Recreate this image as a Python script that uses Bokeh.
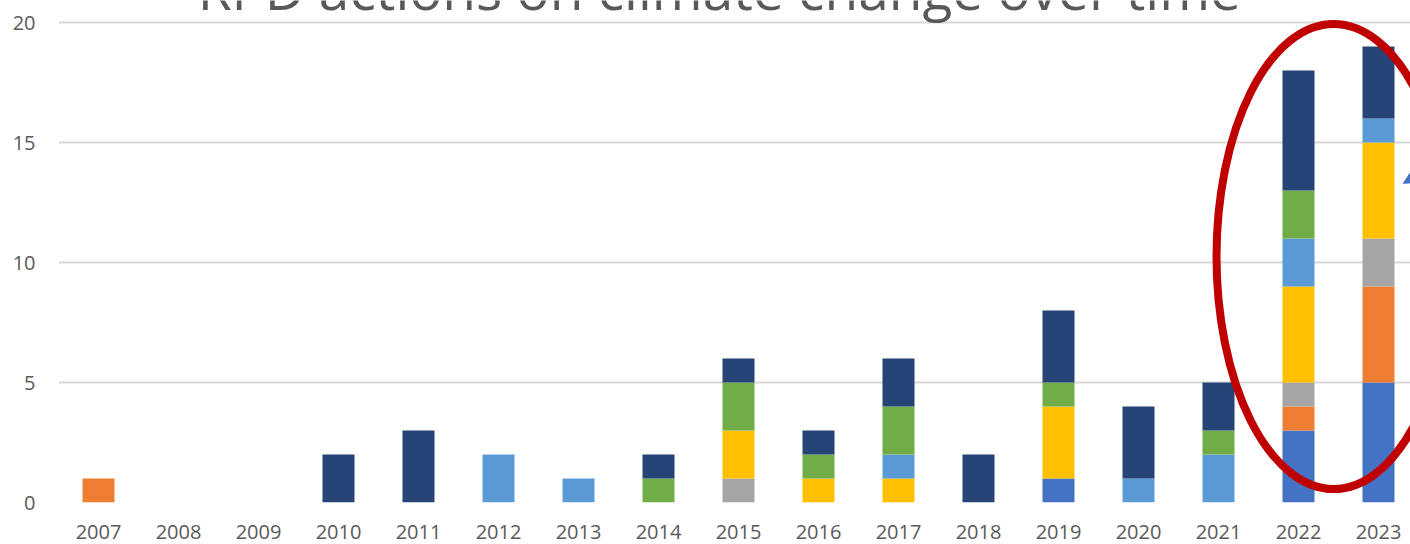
from bokeh.plotting import figure
from bokeh.models import ColumnDataSource, Range1d, FixedTicker, Arrow, NormalHead
from bokeh.core.properties import value
from bokeh.embed import file_html
from bokeh.resources import INLINE

years = [str(y) for y in range(2007, 2024)]
s_blue      = [0, 0, 0, 0, 0, 0, 0, 0, 0, 0, 0, 0, 1, 0, 0, 3, 5]
s_orange    = [1, 0, 0, 0, 0, 0, 0, 0, 0, 0, 0, 0, 0, 0, 0, 1, 4]
s_gray      = [0, 0, 0, 0, 0, 0, 0, 0, 1, 0, 0, 0, 0, 0, 0, 1, 2]
s_yellow    = [0, 0, 0, 0, 0, 0, 0, 0, 2, 1, 1, 0, 3, 0, 0, 4, 4]
s_lightblue = [0, 0, 0, 0, 0, 2, 1, 0, 0, 0, 1, 0, 0, 1, 2, 2, 1]
s_green     = [0, 0, 0, 0, 0, 0, 0, 1, 2, 1, 2, 0, 1, 0, 1, 2, 0]
s_navy      = [0, 0, 0, 2, 3, 0, 0, 1, 1, 1, 2, 2, 3, 3, 2, 5, 3]
y_ticks = [0, 5, 10, 15, 20]
title_text = "RPD actions on climate change over time"

names = ["s_blue", "s_orange", "s_gray", "s_yellow", "s_lightblue", "s_green", "s_navy"]
colors = ["#4472C4", "#ED7D31", "#A5A5A5", "#FFC000", "#5B9BD5", "#70AD47", "#264478"]
idx = list(range(len(years)))
src = ColumnDataSource(dict(x=idx, s_blue=s_blue, s_orange=s_orange, s_gray=s_gray,
                            s_yellow=s_yellow, s_lightblue=s_lightblue, s_green=s_green,
                            s_navy=s_navy))

p = figure(width=1410, height=544, x_range=Range1d(-0.5, 16.4), y_range=Range1d(0, 20.917),
           output_backend="svg", toolbar_location=None,
           min_border_left=58, min_border_right=0, min_border_top=0, min_border_bottom=42)
p.outline_line_color = None
p.background_fill_color = "white"
p.border_fill_color = "white"

p.vbar_stack(names, x="x", width=0.4, color=colors, source=src, line_color=None)

# axes
p.xaxis.ticker = FixedTicker(ticks=idx)
p.xaxis.major_label_overrides = {i: y for i, y in enumerate(years)}
p.yaxis.ticker = FixedTicker(ticks=y_ticks)
for ax in (p.xaxis[0], p.yaxis[0]):
    ax.axis_line_color = None
    ax.major_tick_line_color = None
    ax.minor_tick_line_color = None
    ax.major_tick_in = 0
    ax.major_tick_out = 0
    ax.major_label_text_font = "Open Sans"
    ax.major_label_text_font_size = "20px"
    ax.major_label_text_color = "#595959"
p.xaxis.major_label_standoff = 22
p.yaxis.major_label_standoff = 23
p.xgrid.grid_line_color = None
p.ygrid.ticker = FixedTicker(ticks=y_ticks)
p.ygrid.grid_line_color = "#D9D9D9"
p.ygrid.grid_line_width = 2

# partially visible title
p.text(x=[7.76], y=[21.4], text=[title_text], text_font=value("Open Sans"),
       text_font_size="55px", text_color="#595959", text_align="center",
       text_baseline="alphabetic")

# red highlight ellipse
p.ellipse(x=[15.44], y=[10.25], width=2.93, height=19.4, fill_color=None,
          line_color="#C00000", line_width=8)

# arrow head entering from the right
p.add_layout(Arrow(end=NormalHead(size=18, fill_color="#4472C4", line_color="#4472C4"),
                   x_start=17.2, y_start=15.0, x_end=16.31, y_end=13.3,
                   line_color="#4472C4", line_width=3))

open("out.html", "w").write(file_html(p, INLINE))
